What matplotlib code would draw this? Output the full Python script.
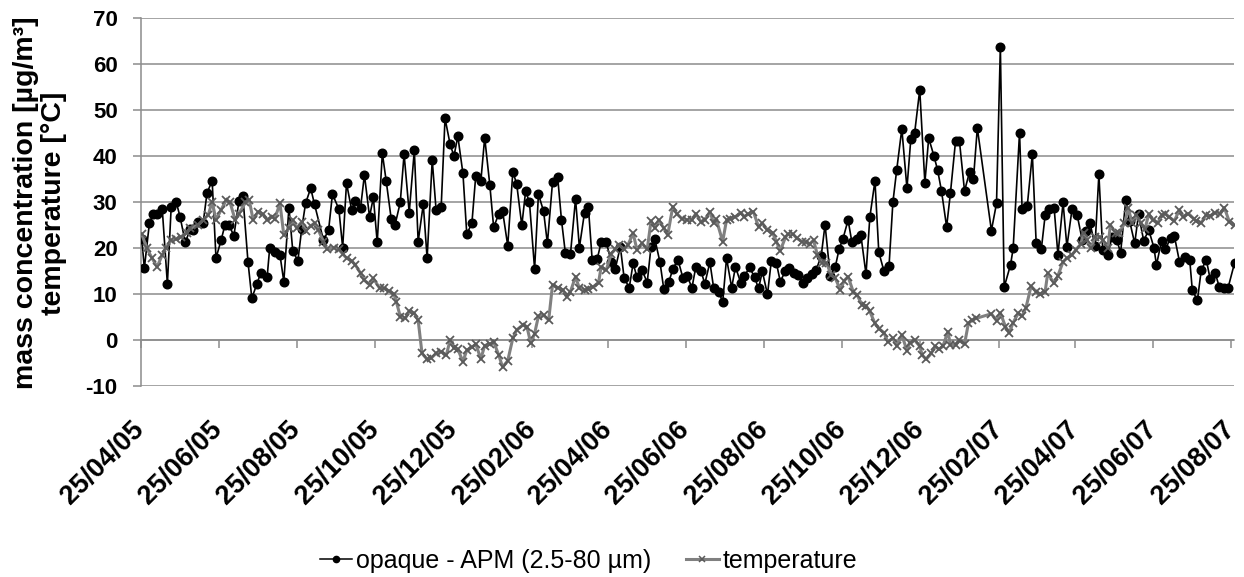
import matplotlib
matplotlib.use("Agg")
import matplotlib.pyplot as plt
from matplotlib.lines import Line2D
import pandas as pd

plt.rcParams["font.family"] = ["Liberation Sans", "DejaVu Sans"]

# sampling days are counted from the campaign start
START = pd.Timestamp("2005-04-25")
END_DAY = 854.6

apm_day = [
    1, 3, 7, 10, 13, 17, 21, 24, 28, 31, 35, 39, 41, 45, 49, 52, 56, 59, 63, 66,
    69, 73, 77, 80, 84, 87, 91, 94, 99, 101, 105, 109, 112, 116, 119, 123, 126, 129, 133, 136,
    143, 147, 150, 155, 158, 161, 165, 168, 172, 175, 179, 182, 185, 189, 192, 196, 199, 203, 206, 210,
    214, 217, 221, 224, 228, 231, 235, 238, 242, 245, 248, 252, 255, 259, 262, 266, 269, 273, 276, 280,
    283, 287, 291, 294, 298, 301, 304, 308, 311, 315, 318, 322, 326, 329, 332, 336, 340, 343, 347, 350,
    353, 357, 360, 364, 368, 371, 375, 378, 382, 385, 388, 392, 396, 399, 402, 406, 409, 413, 416, 420,
    424, 427, 431, 434, 438, 441, 445, 448, 452, 455, 458, 462, 465, 469, 472, 476, 480, 483, 486, 490,
    493, 497, 500, 504, 507, 511, 514, 518, 521, 525, 528, 532, 535, 539, 543, 546, 549, 553, 556, 560,
    563, 567, 570, 574, 577, 581, 585, 588, 591, 595, 599, 602, 605, 609, 613, 616, 620, 623, 626, 630,
    633, 637, 640, 644, 648, 651, 654, 665, 669, 672, 675, 680, 682, 687, 689, 693, 697, 700, 704, 707,
    710, 714, 717, 721, 724, 728, 732, 736, 739, 742, 746, 749, 752, 756, 759, 763, 766, 770, 773, 777,
    780, 784, 788, 792, 794, 798, 801, 805, 808, 812, 816, 820, 822, 826, 829, 833, 836, 840, 843, 847,
    850, 855,
]
apm_value = [
    22, 15.6, 25.5, 27.4, 27.4, 28.5, 12.2, 29, 29.9, 26.7, 21.2, 24.2, 23.9, 25.7, 25.5, 32, 34.6, 17.8, 21.7, 25,
    25, 22.7, 30.3, 31.3, 17, 9.1, 12.2, 14.6, 13.8, 20.1, 19.2, 18.5, 12.7, 28.8, 19.4, 17.2, 24.2, 29.7, 33, 29.5,
    21.7, 23.9, 31.7, 28.5, 20.1, 34.1, 28.3, 30.3, 28.8, 35.9, 26.8, 31, 21.2, 40.6, 34.6, 26.2, 25.1, 29.9, 40.4, 27.7,
    41.2, 21.4, 29.5, 17.8, 39.1, 28.3, 29, 48.2, 42.5, 40, 44.3, 36.2, 23, 25.4, 35.7, 34.6, 44, 33.7, 24.5, 27.4,
    28, 20.5, 36.6, 33.9, 24.9, 32.4, 29.9, 15.4, 31.7, 28, 21, 34.3, 35.5, 26.1, 19, 18.6, 30.7, 20.1, 27.7, 29,
    17.4, 17.7, 21.2, 21.2, 17, 15.4, 20.3, 13.4, 11.4, 16.7, 13.6, 15.2, 12.5, 20.3, 21.9, 16.9, 11, 12.7, 15.4, 17.5,
    13.4, 14, 11.4, 15.9, 15.1, 12.2, 16.9, 11.2, 10.5, 8.2, 17.8, 11.4, 15.9, 12.5, 13.9, 15.8, 13.6, 11.2, 14.9, 9.9,
    17.2, 16.7, 12.7, 15, 15.6, 14.5, 14.1, 12.5, 13.4, 14.3, 15.2, 18.3, 25.1, 14, 15.9, 19.8, 22, 26.1, 21.2, 21.9,
    22.8, 14.3, 26.7, 34.6, 19.1, 15, 16.1, 29.9, 37, 45.9, 33, 43.6, 45, 54.4, 34.2, 43.9, 40.1, 36.9, 32.4, 24.6,
    32, 43.3, 43.3, 32.4, 36.6, 35.1, 46.1, 23.8, 29.7, 63.8, 11.5, 16.4, 19.9, 45.1, 28.4, 29.1, 40.4, 21, 19.7, 27.1,
    28.4, 28.8, 18.5, 29.9, 20.3, 28.4, 27.2, 21.7, 23.6, 25.5, 20.5, 36, 19.6, 18.5, 22.3, 21.7, 19, 30.4, 25.9, 21,
    27.4, 21.6, 23.9, 20.1, 16.3, 21.6, 19.7, 22.2, 22.6, 17, 18.1, 17.4, 10.9, 8.6, 15.2, 17.4, 13.2, 14.5, 11.6, 11.4,
    11.4, 16.7,
]

temp_day = [
    1, 5, 9, 13, 17, 20, 24, 28, 32, 36, 39, 45, 49, 53, 56, 59, 63, 67, 70, 74,
    77, 82, 85, 88, 92, 96, 99, 103, 105, 109, 112, 116, 119, 122, 126, 129, 133, 136, 139, 143,
    146, 151, 155, 158, 161, 165, 168, 172, 175, 179, 182, 187, 190, 194, 198, 200, 203, 207, 210, 214,
    217, 220, 224, 227, 231, 235, 239, 242, 245, 248, 252, 255, 259, 262, 266, 269, 273, 276, 280, 283,
    287, 291, 294, 299, 302, 305, 308, 311, 315, 319, 322, 326, 330, 333, 336, 340, 343, 347, 350, 354,
    358, 360, 364, 368, 371, 374, 378, 381, 385, 388, 392, 396, 399, 402, 405, 409, 412, 416, 419, 423,
    427, 431, 434, 438, 441, 445, 448, 450, 455, 458, 461, 465, 469, 472, 475, 479, 483, 486, 490, 494,
    497, 500, 504, 506, 510, 513, 517, 520, 523, 526, 529, 533, 536, 540, 543, 547, 550, 553, 557, 560,
    564, 567, 570, 574, 577, 581, 584, 588, 591, 595, 599, 601, 605, 609, 611, 614, 618, 621, 624, 627,
    631, 633, 637, 640, 644, 647, 650, 653, 665, 669, 672, 676, 679, 682, 686, 689, 692, 696, 700, 703,
    707, 709, 714, 717, 721, 724, 728, 731, 735, 737, 740, 743, 746, 750, 752, 756, 758, 762, 765, 769,
    772, 775, 778, 782, 785, 788, 791, 795, 798, 801, 804, 808, 812, 815, 819, 823, 825, 829, 833, 836,
    840, 844, 847, 851, 855,
]
temp_value = [
    23, 19.9, 17.8, 15.9, 18.5, 20.1, 21.7, 21.9, 22.5, 23.3, 24.3, 25, 26.1, 27.2, 30.1, 26.1, 28.3, 30.4, 29.9, 26.1,
    27.5, 29.9, 30.4, 26.1, 27.9, 27.3, 26.1, 26.8, 26.4, 29.7, 22.8, 24.3, 26.1, 24.3, 25.7, 23.8, 24.8, 25.4, 23.9, 21.4,
    19.7, 20.1, 19.7, 18.7, 17.8, 17.2, 16.3, 14.5, 13, 12, 13.4, 11.2, 11.2, 10.7, 10, 8.3, 5.1, 4.7, 6.2, 5.8,
    4.3, -2.9, -4.2, -4, -2.9, -2.5, -3.3, 0, -1.8, -2, -4.7, -2.2, -1.6, -0.9, -4.1, -1.2, -0.9, -0.4, -3.3, -5.9,
    -4.5, 0.4, 2.2, 3.3, 2.9, -0.7, 1.4, 5.2, 5.4, 4.3, 12, 11.4, 10.9, 9.4, 10.5, 13.8, 11.2, 10.9, 11, 11.6,
    12.5, 15.9, 15.2, 18.8, 19.7, 20.7, 19.7, 20.7, 23.2, 19.6, 21, 19.7, 25.9, 24.3, 26.1, 24.3, 22.8, 29, 27.5, 26.4,
    26.1, 26.1, 27.5, 25.7, 26.1, 27.9, 25.4, 26.2, 21.4, 26.1, 26.4, 26.8, 27.7, 26.8, 27.4, 27.9, 24.6, 25.4, 23.9, 23.3,
    21.4, 19.4, 22.3, 23, 23, 22.1, 21.4, 21.2, 20.9, 21.7, 18.5, 16.7, 16.8, 14.1, 13.4, 10.9, 12.9, 13.8, 10.5, 9.8,
    7.6, 7.5, 6.2, 3.6, 2.5, 1.6, -0.4, 0.4, -1.3, 1.1, -2.3, -0.6, 0, -1.4, -3.3, -4.2, -2.9, -1.4, -2, -1.4,
    1.8, -1.1, -1.1, -0.1, -0.9, 3.6, 4.3, 4.7, 5.7, 4.2, 5.9, 2.9, 1.6, 3.8, 5.8, 5.2, 7, 11.7, 10.5, 10,
    10.5, 14.5, 12.3, 14, 17, 17.8, 18.5, 19.6, 20.9, 23.3, 21.7, 19.9, 22.5, 22.3, 21.7, 20.1, 25, 23.2, 23.2, 25.4,
    28.6, 25.4, 27.2, 25.4, 24.1, 27.4, 26.1, 25.4, 27.2, 27.5, 26.7, 25.9, 28.3, 26.8, 27.5, 26.4, 25.9, 25.5, 27.2, 27,
    27.7, 27.5, 28.8, 25.7, 25,
]

tick_dates = [START + pd.DateOffset(months=2 * i) for i in range(15)]
tick_labels = [d.strftime("%d/%m/%y") for d in tick_dates]

apm_dates = START + pd.to_timedelta(apm_day, unit="D")
temp_dates = START + pd.to_timedelta(temp_day, unit="D")

GRID = "#8c8c8c"
W, H = 1244, 577

fig = plt.figure(figsize=(W / 100, H / 100), dpi=100)
ax = fig.add_axes([140.5 / W, 1 - 386 / H, (1234 - 140.5) / W, (386 - 18) / H])

ax.plot(apm_dates, apm_value, color="black", lw=1.2, marker="o", ms=6.2, zorder=3)
ax.plot(temp_dates, temp_value, color="#808080", lw=2.2, marker="x", ms=5.5,
        mew=1.3, mec="#5a5a5a", zorder=4)

ax.set_xlim(START, START + pd.Timedelta(days=END_DAY))
ax.set_ylim(-10, 70)
ax.set_yticks(range(-10, 71, 10))
ax.set_yticklabels([str(v) for v in range(-10, 71, 10)], fontsize=16, fontweight="bold")
ax.yaxis.grid(True, color=GRID, lw=1.1)
ax.set_axisbelow(True)

for side in ("top", "right"):
    ax.spines[side].set_visible(False)
ax.spines["left"].set_color(GRID)
ax.spines["left"].set_linewidth(1.1)
# horizontal axis crosses at zero, labels sit below the plot
ax.spines["bottom"].set_position(("data", 0))
ax.spines["bottom"].set_color(GRID)
ax.spines["bottom"].set_linewidth(1.1)

ax.tick_params(axis="y", direction="out", length=5.5, width=1.1, color=GRID, pad=11)
ax.tick_params(axis="x", direction="out", length=5.8, width=1.1, color=GRID, pad=56)
ax.set_xticks(tick_dates)
ax.set_xticklabels(tick_labels, rotation=45, ha="right", va="center",
                   rotation_mode="anchor", fontsize=19.5, fontweight="bold")

fig.text(40 / W, 1 - 203 / H, "mass concentration [µg/m³]\ntemperature [°C]",
         rotation=90, ha="center", va="center", multialignment="center",
         fontsize=20.5, fontweight="bold", linespacing=1.12)

handles = [
    Line2D([], [], color="black", lw=1.1, marker="o", ms=4.5),
    Line2D([], [], color="#808080", lw=2.2, marker="x", ms=4, mew=1.1, mec="#5a5a5a"),
]
fig.legend(handles, ["opaque - APM (2.5-80 µm)", "temperature"], loc="center left",
           bbox_to_anchor=(297 / W, 1 - 561 / H), ncol=2, frameon=False,
           fontsize=18, handlelength=1.3, handletextpad=0.15, columnspacing=1.4)

fig.savefig("out.png", dpi=100)
